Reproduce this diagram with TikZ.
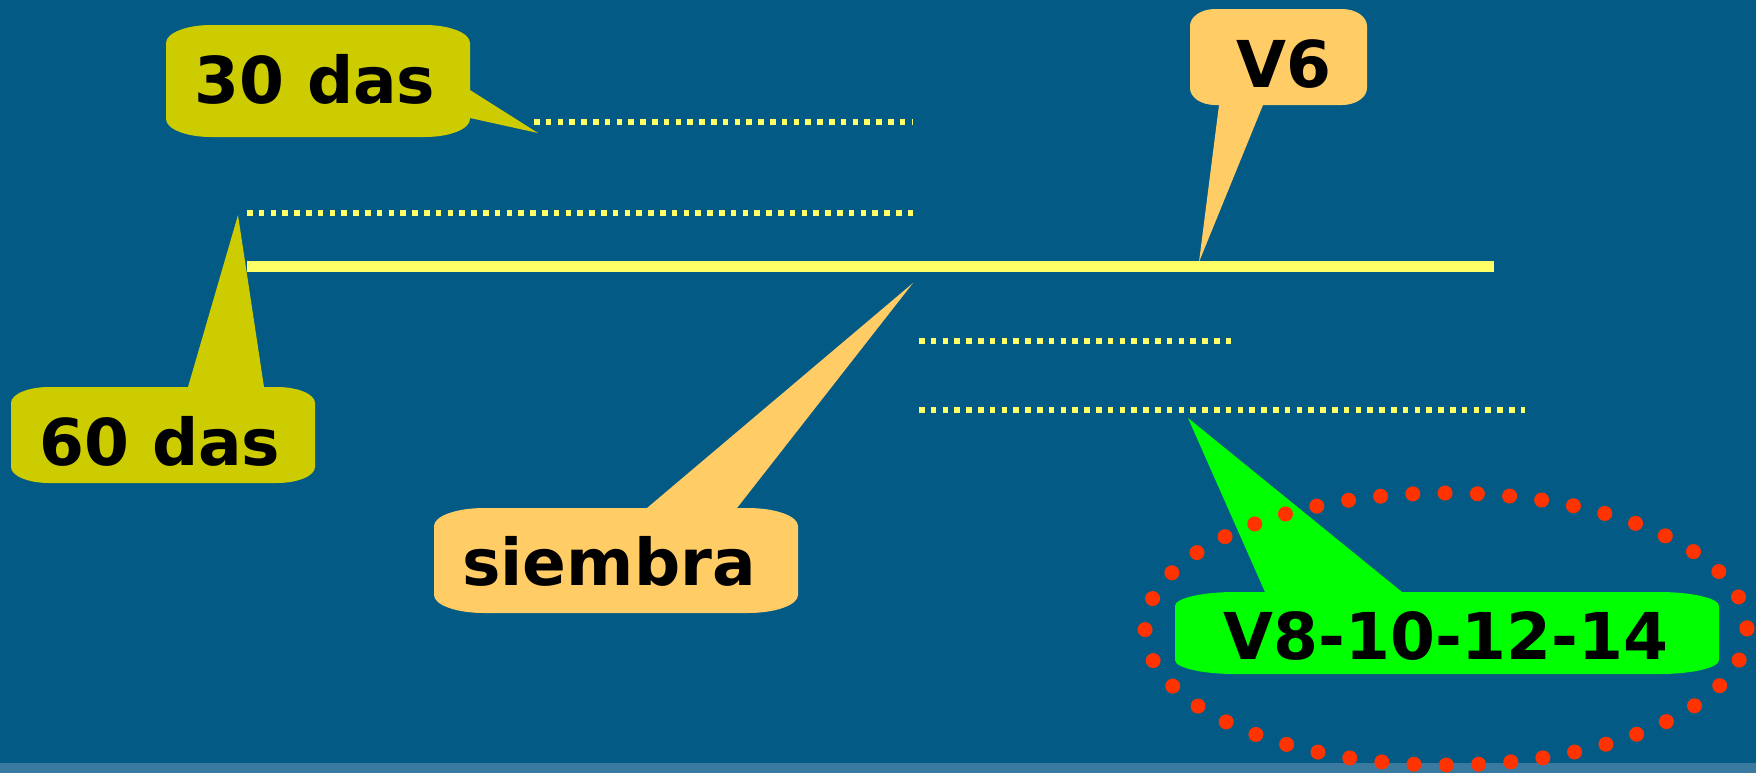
\documentclass[tikz,border=0pt]{standalone}
\usepackage{fontspec}
\setmainfont{DejaVu Sans}
\begin{document}
\begin{tikzpicture}[x=0.5pt,y=-0.5pt,
  lbl/.style={inner sep=0pt,anchor=base,text=black,
    font=\fontsize{32.3pt}{38pt}\selectfont\bfseries},
  dotline/.style={draw=lineyellow,line width=2.8pt,dash pattern=on 2.8pt off 3.1pt},
  mainline/.style={draw=lineyellow,line width=5.5pt},
  reddots/.style={draw=dotred,line width=7.5pt,line cap=round,dash pattern=on 0pt off 16.15pt}]
\definecolor{bgblue}{HTML}{035A85}
\definecolor{bandblue}{HTML}{3B7AA0}
\definecolor{lineyellow}{HTML}{FFFF66}
\definecolor{olive}{HTML}{CCCC00}
\definecolor{peach}{HTML}{FFCC66}
\definecolor{brightgreen}{HTML}{00FF00}
\definecolor{dotred}{HTML}{FF3300}

% rounded box with elliptical corners: L, T, R, B, rx, ry, colour
\newcommand\bubblebox[7]{%
  \pgfmathsetmacro\ka{0.5523*#5}\pgfmathsetmacro\kb{0.5523*#6}%
  \fill[#7] (#1+#5,#2) -- (#3-#5,#2)
    .. controls (#3-#5+\ka,#2) and (#3,#2+#6-\kb) .. (#3,#2+#6)
    -- (#3,#4-#6)
    .. controls (#3,#4-#6+\kb) and (#3-#5+\ka,#4) .. (#3-#5,#4)
    -- (#1+#5,#4)
    .. controls (#1+#5-\ka,#4) and (#1,#4-#6+\kb) .. (#1,#4-#6)
    -- (#1,#2+#6)
    .. controls (#1,#2+#6-\kb) and (#1+#5-\ka,#2) .. (#1+#5,#2) -- cycle;}

% background
\fill[bgblue] (0,0) rectangle (1756,773);
\fill[bandblue] (0,763) rectangle (1756,773);
\useasboundingbox (0,0) rectangle (1756,773);

% time lines
\coordinate (d1a) at (534,122); \coordinate (d1b) at (913,122);
\coordinate (d2a) at (247,213); \coordinate (d2b) at (913,213);
\coordinate (m1) at (247,266);  \coordinate (m2) at (1494,266);
\coordinate (d3a) at (919,341); \coordinate (d3b) at (1235,341);
\coordinate (d4a) at (919,410); \coordinate (d4b) at (1525,410);
\draw[dotline] (d1a) -- (d1b);
\draw[dotline] (d2a) -- (d2b);
\draw[mainline] (m1) -- (m2);
\draw[dotline] (d3a) -- (d3b);
\draw[dotline] (d4a) -- (d4b);

% callout tips
\coordinate (tip30) at (538,133);
\coordinate (tip60) at (238,215);
\coordinate (tipV6) at (1199,262);
\coordinate (tipS) at (913,283);
\coordinate (tipV8) at (1188,418);

% 30 das
\fill[olive] (460,90) -- (470,90) -- (tip30) -- (470,118) -- (460,118) -- cycle;
\bubblebox{166}{25}{470}{137}{45}{18}{olive}
\node[lbl] (l30) at (315,103) {30 das};

% 60 das
\fill[olive] (188,395) -- (188,387) -- (tip60) -- (264,387) -- (264,395) -- cycle;
\bubblebox{11}{387}{315}{483}{38}{16}{olive}
\node[lbl] (l60) at (160,465) {60 das};

% V6
\fill[peach] (1219,95) -- (1219,105) -- (tipV6) -- (1263,105) -- (1263,95) -- cycle;
\bubblebox{1190}{9}{1367}{105}{25}{17}{peach}
\node[lbl] (lV6) at (1284,87) {V6};

% siembra
\fill[peach] (647,518) -- (647,508) -- (tipS) -- (737,508) -- (737,518) -- cycle;
\bubblebox{434}{508}{798}{613}{50}{18}{peach}
\node[lbl] (lS) at (609,585) {siembra};

% V8-10-12-14
\fill[brightgreen] (1265,602) -- (1265,592) -- (tipV8) -- (1402,592) -- (1402,602) -- cycle;
\bubblebox{1175}{592}{1719}{674}{60}{14}{brightgreen}
\node[lbl] (lV8) at (1446,659) {V8-10-12-14};

% highlight ring
\draw[reddots] (1446,629) ellipse [x radius=301, y radius=136];
\end{tikzpicture}
\end{document}
